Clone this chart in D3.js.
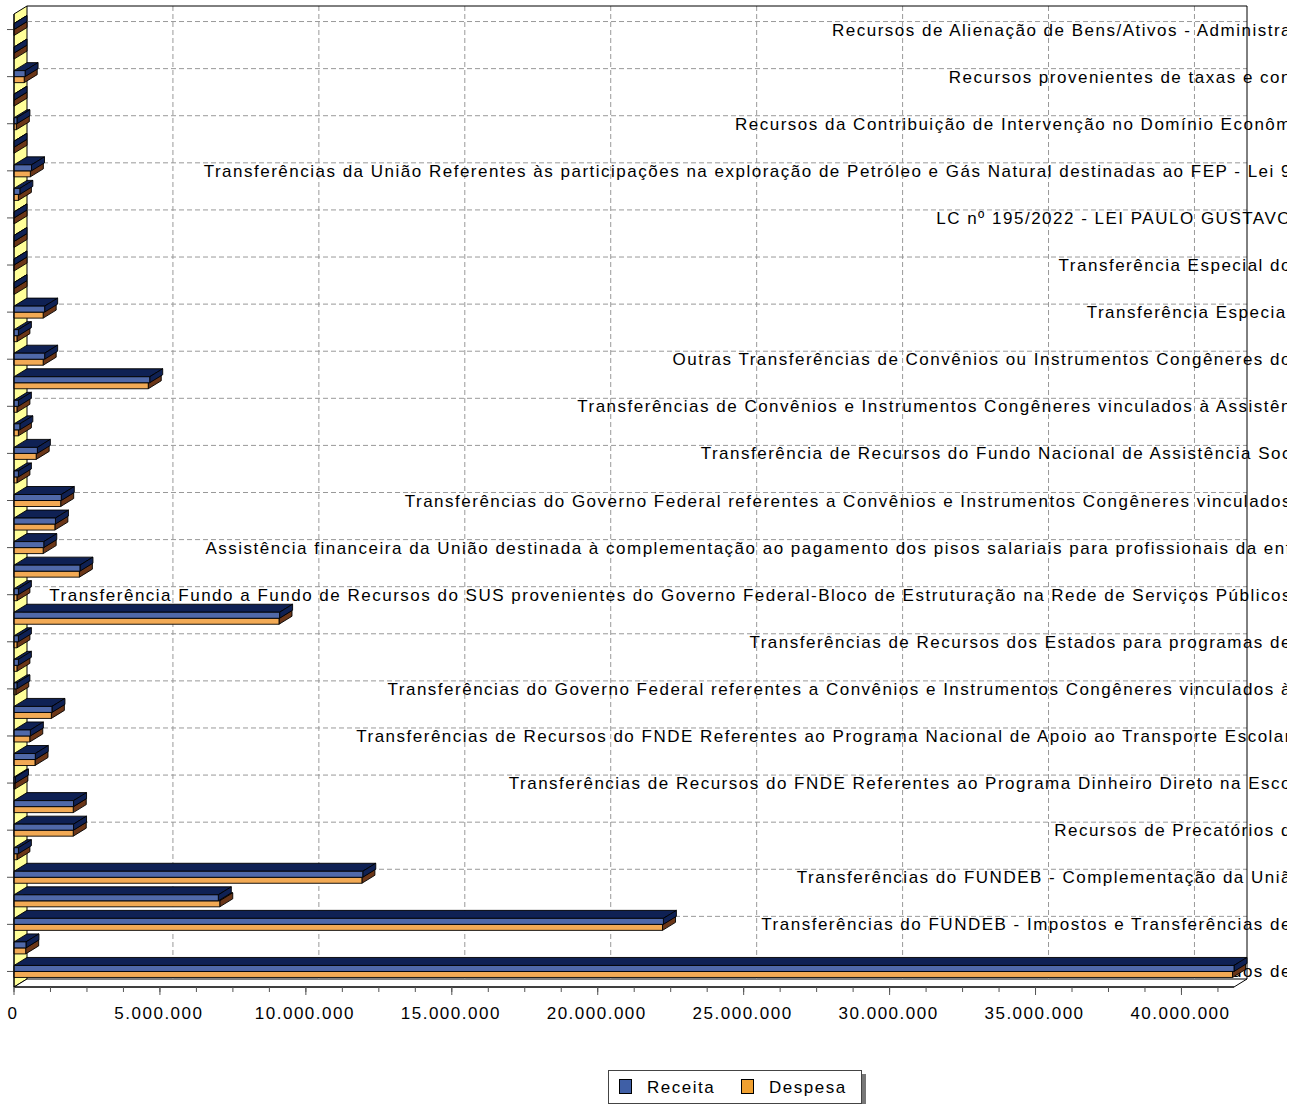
<!DOCTYPE html>
<html><head><meta charset="utf-8">
<script src="https://cdn.jsdelivr.net/npm/d3@7"></script>
<style>
body{margin:0;background:#fff}
svg{display:block}
text{font-family:"Liberation Sans",Arial,sans-serif;font-size:17px;letter-spacing:1.5px;fill:#000}
</style>
</head><body>
<svg id="c" width="1300" height="1104"></svg>
<script>
// ---- data ----
const categories = [
 "Recursos de Alienação de Bens/Ativos - Administra", "",
 "Recursos provenientes de taxas e con", "",
 "Recursos da Contribuição de Intervenção no Domínio Econôm", "",
 "Transferências da União Referentes às participações na exploração de Petróleo e Gás Natural destinadas ao FEP - Lei 9", "",
 "LC nº 195/2022 - LEI PAULO GUSTAVO", "",
 "Transferência Especial do", "",
 "Transferência Especial", "",
 "Outras Transferências de Convênios ou Instrumentos Congêneres do", "",
 "Transferências de Convênios e Instrumentos Congêneres vinculados à Assistên", "",
 "Transferência de Recursos do Fundo Nacional de Assistência Soc", "",
 "Transferências do Governo Federal referentes a Convênios e Instrumentos Congêneres vinculados", "",
 "Assistência financeira da União destinada à complementação ao pagamento dos pisos salariais para profissionais da enf", "",
 "Transferência Fundo a Fundo de Recursos do SUS provenientes do Governo Federal-Bloco de Estruturação na Rede de Serviços Públicos", "",
 "Transferências de Recursos dos Estados para programas de", "",
 "Transferências do Governo Federal referentes a Convênios e Instrumentos Congêneres vinculados à", "",
 "Transferências de Recursos do FNDE Referentes ao Programa Nacional de Apoio ao Transporte Escolar", "",
 "Transferências de Recursos do FNDE Referentes ao Programa Dinheiro Direto na Esco", "",
 "Recursos de Precatórios d", "",
 "Transferências do FUNDEB - Complementação da Uniã", "",
 "Transferências do FUNDEB - Impostos e Transferências de", "",
 "Recursos não Vinculados de"
];
const receita = [
 0, 0, 380000, 0, 100000, 0, 600000, 200000, 0, 0,
 0, 0, 1050000, 150000, 1050000, 4650000, 150000, 200000, 800000, 150000,
 1620000, 1420000, 1020000, 2260000, 150000, 9100000, 150000, 150000, 100000, 1300000,
 560000, 730000, 50000, 2040000, 2040000, 150000, 11950000, 7000000, 22250000, 410000,
 41800000
];
const despesa = [
 0, 0, 350000, 0, 80000, 0, 560000, 150000, 0, 0,
 0, 0, 1000000, 100000, 1000000, 4600000, 100000, 150000, 760000, 100000,
 1600000, 1400000, 1000000, 2240000, 100000, 9080000, 100000, 100000, 60000, 1280000,
 540000, 720000, 30000, 2030000, 2030000, 100000, 11920000, 7050000, 22220000, 400000,
 41750000
];
const seriesNames = ["Receita", "Despesa"];
const xTickValues = [0, 5000000, 10000000, 15000000, 20000000, 25000000, 30000000, 35000000, 40000000];
const xTickLabels = ["0", "5.000.000", "10.000.000", "15.000.000", "20.000.000", "25.000.000", "30.000.000", "35.000.000", "40.000.000"];

// ---- layout ----
const svg = d3.select("#c");
const dx = 13, dy = 8;
const X0 = 14, X1 = 1234, YT = 14, YB = 987;
const frontColor = {Receita: "#5069a9", Despesa: "#f2aa55"};
const darkColor = {Receita: "#0f2154", Despesa: "#6b3618"};
const legendColor = {Receita: "#3f5fa6", Despesa: "#f0a030"};

const x = d3.scaleLinear().domain([0, 41800000]).range([X0, X1]);
const y = d3.scaleBand().domain(d3.range(categories.length)).range([YT, YB]).paddingOuter(0.16).paddingInner(0);
const cy = i => y(i) + y.bandwidth() / 2;
const barH = 6;

svg.append("rect").attr("width", 1300).attr("height", 1104).attr("fill", "#fff");

// left wall
svg.append("polygon")
  .attr("points", [[X0, YT], [X0 + dx, YT - dy], [X0 + dx, YB - dy], [X0, YB]].join(" "))
  .attr("fill", "#ffff99").attr("stroke", "#000");
// floor
svg.append("polygon")
  .attr("points", [[X0, YB], [X0 + dx, YB - dy], [X1 + dx, YB - dy], [X1, YB]].join(" "))
  .attr("fill", "#fff").attr("stroke", "#000");

// gridlines on back wall
const grid = svg.append("g").attr("stroke", "#999").attr("stroke-dasharray", "5,3").attr("stroke-width", 1);
xTickValues.filter(v => v > 0).forEach(v => {
  grid.append("line").attr("x1", x(v) + dx).attr("x2", x(v) + dx).attr("y1", YT - dy).attr("y2", YB - dy);
});
categories.forEach((c, i) => {
  if (!c) return;
  grid.append("line").attr("x1", X0 + dx).attr("x2", X1 + dx).attr("y1", cy(i) - dy).attr("y2", cy(i) - dy);
});

// category labels (drawn behind bars, clipped at chart edge)
svg.append("clipPath").attr("id", "lblclip").append("rect").attr("x", 0).attr("y", 0).attr("width", 1287).attr("height", 1104);
const lbl = svg.append("g").attr("clip-path", "url(#lblclip)");
categories.forEach((c, i) => {
  if (!c) return;
  lbl.append("text").attr("x", 1292).attr("y", cy(i) + 6).attr("text-anchor", "end").text(c);
});

// plot border (back)
svg.append("path")
  .attr("d", `M${X0 + dx},${YT - dy}H${X1 + dx}V${YB - dy}`)
  .attr("fill", "none").attr("stroke", "#000");

// category axis ticks
categories.forEach((c, i) => {
  if (!c) return;
  svg.append("line").attr("x1", 7).attr("x2", X0).attr("y1", cy(i)).attr("y2", cy(i)).attr("stroke", "#555");
});

// bars
const bars = svg.append("g").attr("stroke", "#000").attr("stroke-width", 0.9).attr("stroke-linejoin", "round");
function drawBar(v, ya, yb, name) {
  const xa = x(0), xb = x(v);
  const g = bars.append("g");
  g.append("polygon").attr("points", [[xa, ya], [xa + dx, ya - dy], [xb + dx, ya - dy], [xb, ya]].join(" "))
    .attr("fill", darkColor[name]);
  g.append("polygon").attr("points", [[xb, ya], [xb + dx, ya - dy], [xb + dx, yb - dy], [xb, yb]].join(" "))
    .attr("fill", darkColor[name]);
  g.append("rect").attr("x", xa).attr("y", ya).attr("width", Math.max(0, xb - xa)).attr("height", yb - ya)
    .attr("fill", frontColor[name]);
}
categories.forEach((c, i) => {
  const m = cy(i);
  drawBar(despesa[i], m, m + barH, "Despesa");
  drawBar(receita[i], m - barH, m, "Receita");
});

// value axis
const ax = svg.append("g");
ax.append("line").attr("x1", X0).attr("x2", X1).attr("y1", YB).attr("y2", YB).attr("stroke", "#000");
ax.append("line").attr("x1", X0).attr("x2", X0).attr("y1", YT).attr("y2", YB).attr("stroke", "#000");
const minor = d3.range(0, 41800000, 1250000);
minor.forEach(v => {
  ax.append("line").attr("x1", x(v)).attr("x2", x(v)).attr("y1", YB).attr("y2", YB + 5).attr("stroke", "#555");
});
xTickValues.forEach((v, k) => {
  ax.append("line").attr("x1", x(v)).attr("x2", x(v)).attr("y1", YB).attr("y2", YB + 8).attr("stroke", "#555");
  ax.append("text").attr("x", x(v) - 1).attr("y", 1019).attr("text-anchor", "middle").text(xTickLabels[k]);
});

// legend
const lg = svg.append("g");
lg.append("rect").attr("x", 612).attr("y", 1074).attr("width", 254).attr("height", 34).attr("fill", "#777");
lg.append("rect").attr("x", 608.5).attr("y", 1070.5).attr("width", 253).attr("height", 33).attr("fill", "#fff").attr("stroke", "#444");
const legX = [619, 741];
seriesNames.forEach((s, k) => {
  lg.append("rect").attr("x", legX[k] + 0.5).attr("y", 1079.5).attr("width", 12).attr("height", 14)
    .attr("fill", legendColor[s]).attr("stroke", "#000");
  lg.append("text").attr("x", legX[k] + 28).attr("y", 1093).text(s);
});
</script>
</body></html>
